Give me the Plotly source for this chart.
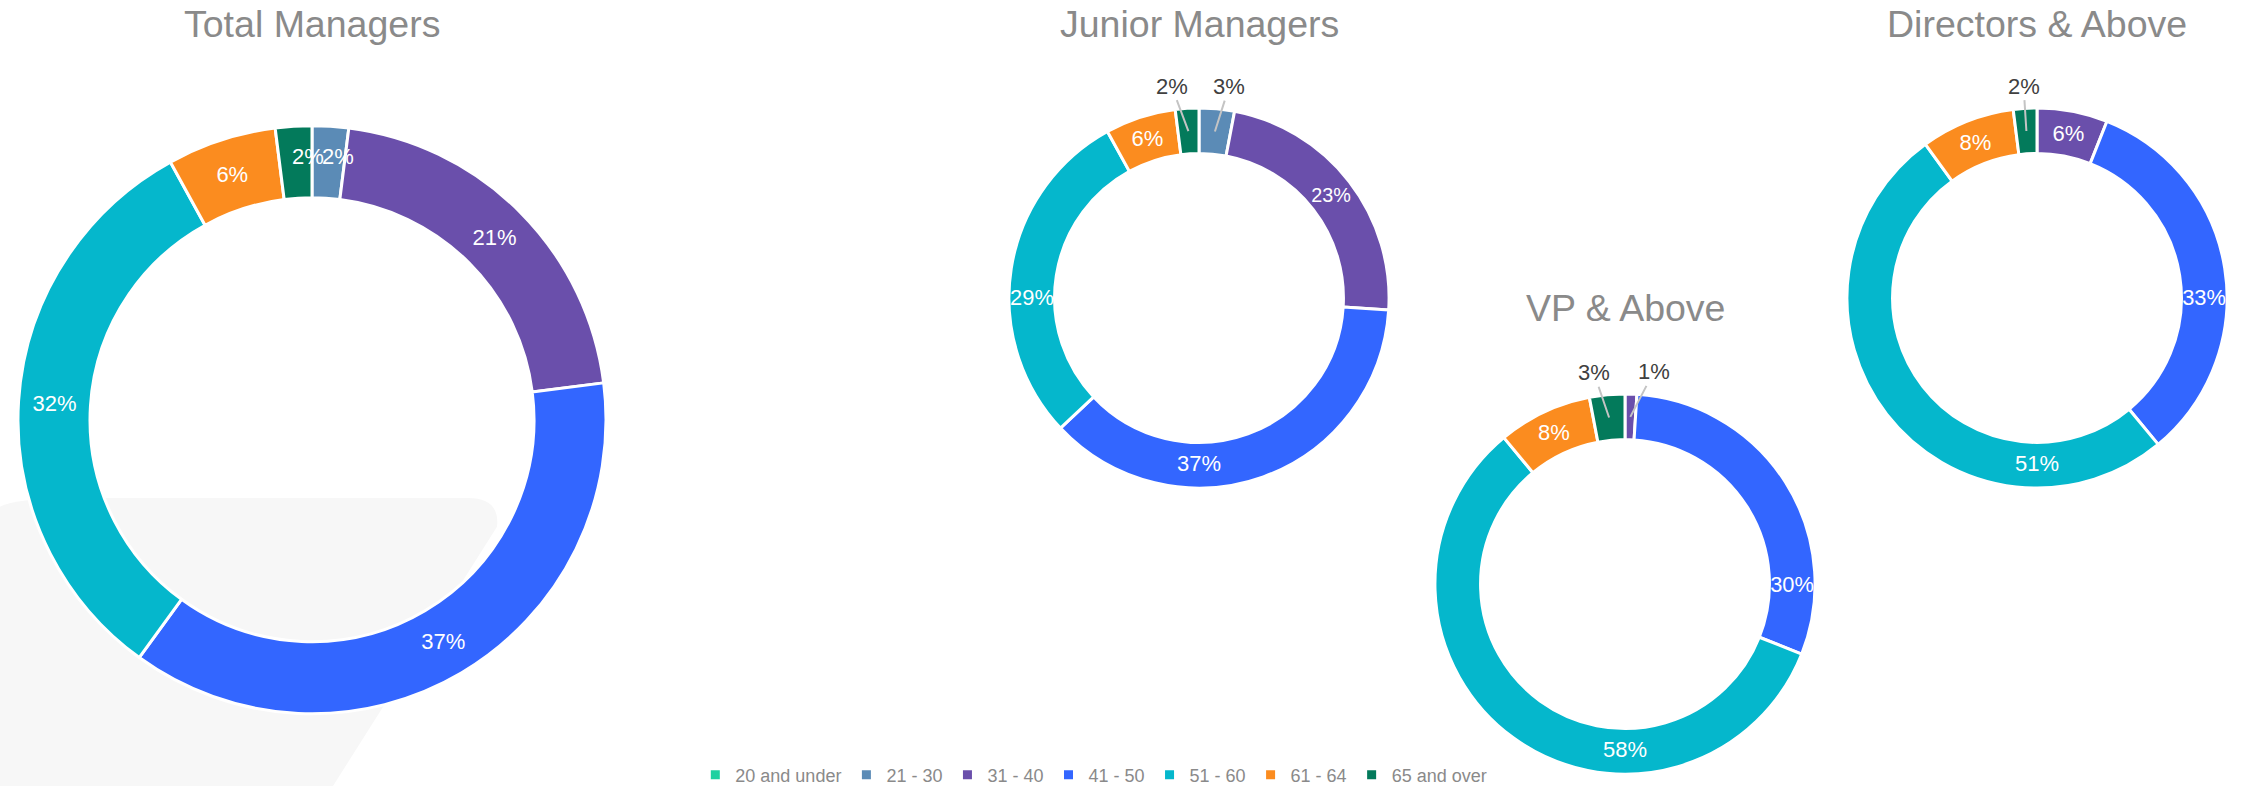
import math
import plotly.graph_objects as go

# ---------------- data ----------------
age_groups = ["20 and under", "21 - 30", "31 - 40", "41 - 50", "51 - 60", "61 - 64", "65 and over"]
colors = ["#1fd1a1", "#5b8bb6", "#6a4fab", "#3366ff", "#05b7cc", "#fb8c1f", "#037a5b"]

total_managers = [0, 2, 21, 37, 32, 6, 2]
junior_managers = [0, 3, 23, 37, 29, 6, 2]
vp_above = [0, 0, 1, 30, 58, 8, 3]
directors_above = [0, 0, 6, 33, 51, 8, 2]

chart_titles = ["Total Managers", "Junior Managers", "VP & Above", "Directors & Above"]

# ---------------- layout (pixels) ----------------
W, H = 2246, 794
FONT = "Liberation Sans, Arial, sans-serif"
charts = [
    dict(values=total_managers, cx=312, cy=424, r=297, hole=0.755, ty=24, thr=4,
         small="inside", nudge={1: 10, 6: 12}),
    dict(values=junior_managers, cx=1199, cy=301, r=192, hole=0.76, ty=24, thr=4,
         small="outside", nudge={1: 10, 6: -14}),
    dict(values=vp_above, cx=1625, cy=590, r=192, hole=0.76, ty=311, thr=4,
         small="outside", nudge={2: 22, 6: -11}),
    dict(values=directors_above, cx=2037, cy=301, r=192, hole=0.76, ty=24, thr=4,
         small="outside", nudge={}),
]


def px(x):
    return x / W


def py(y):
    return 1 - y / H


fig = go.Figure()
annotations = []

for i, ch in enumerate(charts):
    vals = ch["values"]
    total = sum(vals)
    pct = [round(v / total * 100) for v in vals]
    texts = []
    for v, p in zip(vals, pct):
        if v == 0 or p < ch["thr"]:
            texts.append("")
        else:
            texts.append(f"{p}%")
    cx, cy, r = ch["cx"], ch["cy"], ch["r"]
    fig.add_trace(go.Pie(
        labels=age_groups,
        values=vals,
        text=texts,
        textinfo="text",
        textposition="inside",
        insidetextorientation="horizontal",
        hole=ch["hole"],
        sort=False,
        direction="clockwise",
        rotation=0,
        marker=dict(colors=colors, line=dict(color="white", width=3)),
        textfont=dict(family=FONT, size=22, color="white"),
        domain=dict(x=[px(cx - r), px(cx + r)], y=[py(cy + r), py(cy - r)]),
        showlegend=True,
        hoverinfo="label+percent",
    ))
    annotations.append(dict(
        text=chart_titles[i], x=px(cx), y=py(ch["ty"]), xref="paper", yref="paper",
        xanchor="center", yanchor="middle", showarrow=False,
        font=dict(family=FONT, size=37.5, color="#8a8a8a"),
    ))
    cum = 0
    r_in = r * ch["hole"]
    for k, (v, p) in enumerate(zip(vals, pct)):
        if v > 0 and p < ch["thr"]:
            mid = (cum + v / 2) / total * 2 * math.pi
            rm = (r + r_in) / 2
            x0 = cx + rm * math.sin(mid)
            y0 = cy - rm * math.cos(mid)
            if ch["small"] == "inside":
                annotations.append(dict(
                    text=f"{p}%", x=px(x0 + ch["nudge"].get(k, 0)), y=py(y0 - 6),
                    xref="paper", yref="paper", xanchor="center", yanchor="middle",
                    showarrow=False, font=dict(family=FONT, size=22, color="white"),
                ))
            else:
                rl = r + 22
                xl = cx + rl * math.sin(mid) + ch["nudge"].get(k, 0)
                yl = cy - rl * math.cos(mid)
                annotations.append(dict(
                    text=f"{p}%", x=px(x0), y=py(y0), xref="paper", yref="paper",
                    ax=xl - x0, ay=yl - y0, showarrow=True, arrowhead=0, arrowwidth=2,
                    arrowcolor="#c4c4c4", standoff=0,
                    font=dict(family=FONT, size=22, color="#404040"),
                ))
        cum += v

# decorative light background shape behind first chart
pts = "M {},{} Q {},{} {},{} L {},{} Q {},{} {},{} L {},{} L {},{} Z".format(
    px(0), py(512), px(15), py(503), px(80), py(503), px(468), py(503),
    px(500), py(503), px(497), py(532), px(333), py(794), px(0), py(794))

fig.update_layout(
    width=W, height=H,
    margin=dict(l=0, r=0, t=0, b=0),
    paper_bgcolor="white",
    plot_bgcolor="white",
    annotations=annotations,
    shapes=[dict(type="path", path=pts, xref="paper", yref="paper",
                 fillcolor="#f7f7f7", line=dict(width=0), layer="below")],
    legend=dict(
        orientation="h", x=0.487, y=py(783), xanchor="center", yanchor="middle",
        font=dict(family=FONT, size=18, color="#8a8a8a"),
        itemclick=False, itemdoubleclick=False, traceorder="normal",
        bgcolor="rgba(0,0,0,0)",
    ),
)

fig.write_html(
    "out.html",
    config={"displayModeBar": False},
    post_script="document.body.style.margin='0';document.body.style.padding='0';"
                "document.documentElement.style.overflow='hidden';",
)
